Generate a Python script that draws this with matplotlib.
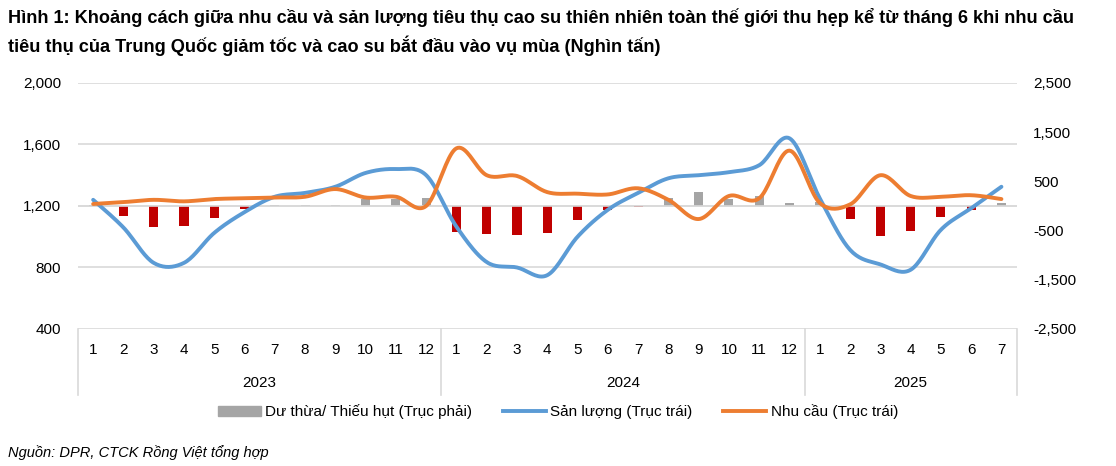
import numpy as np
import matplotlib.pyplot as plt
from matplotlib.lines import Line2D
from matplotlib.patches import Patch
import matplotlib.transforms as mtransforms

plt.rcParams['font.family'] = ['Liberation Sans', 'DejaVu Sans']

# Data (thousand tonnes)
years = ['2023', '2024', '2025']
months = [str(m) for m in range(1, 13)] * 2 + [str(m) for m in range(1, 8)]
san_luong = [1240, 1060, 830, 830, 1025, 1160, 1260, 1285, 1325, 1415, 1440, 1400,
             1065, 835, 800, 750, 1000, 1175, 1285, 1380, 1400, 1420, 1465, 1640,
             1250, 915, 820, 785, 1045, 1185, 1325]
nhu_cau = [1213, 1225, 1240, 1230, 1245, 1250, 1255, 1260, 1310, 1255, 1260, 1200,
           1575, 1400, 1395, 1290, 1280, 1275, 1315, 1240, 1115, 1265, 1250, 1560,
           1220, 1210, 1400, 1265, 1260, 1270, 1245]
du_thua = [20, -200, -420, -410, -250, -70, 10, 25, 10, 140, 140, 170,
           -530, -575, -600, -545, -285, -80, -25, 160, 280, 150, 200, 70,
           75, -260, -610, -500, -220, -80, 70]

BLUE = '#5B9BD5'
ORANGE = '#ED7D31'
GREY = '#A5A5A5'
RED = '#C00000'


def smooth(x, y, n=20):
    # Excel-style smoothed line (Catmull-Rom through the points)
    x = np.asarray(x, float)
    y = np.asarray(y, float)
    px = np.concatenate([[x[0]], x, [x[-1]]])
    py = np.concatenate([[y[0]], y, [y[-1]]])
    t = np.linspace(0, 1, n, endpoint=False)
    xs, ys = [], []
    for i in range(1, len(px) - 2):
        for arr, out in ((px, xs), (py, ys)):
            p0, p1, p2, p3 = arr[i - 1], arr[i], arr[i + 1], arr[i + 2]
            c1 = p1 + (p2 - p0) / 6
            c2 = p2 - (p3 - p1) / 6
            out.extend((1 - t) ** 3 * p1 + 3 * (1 - t) ** 2 * t * c1
                       + 3 * (1 - t) * t ** 2 * c2 + t ** 3 * p2)
    xs.append(x[-1])
    ys.append(y[-1])
    return np.array(xs), np.array(ys)


x = np.arange(len(months))

fig = plt.figure(figsize=(11.16, 4.66), dpi=100)
ax = fig.add_axes([0.0699, 0.294, 0.841, 0.528])
ax2 = ax.twinx()

# bars on right axis
bar_colors = [GREY if v >= 0 else RED for v in du_thua]
ax2.bar(x, du_thua, width=0.3, color=bar_colors, zorder=2)
ax2.set_ylim(-2500, 2500)
ax2.set_yticks([-2500, -1500, -500, 500, 1500, 2500])
ax2.set_yticklabels([f'{v:,}' for v in [-2500, -1500, -500, 500, 1500, 2500]])

# lines on left axis, drawn above bars
ax.set_zorder(ax2.get_zorder() + 1)
ax.patch.set_visible(False)
sx, sy = smooth(x, san_luong)
ax.plot(sx, sy, color=BLUE, lw=2.8, solid_capstyle='round')
nx, ny = smooth(x, nhu_cau)
ax.plot(nx, ny, color=ORANGE, lw=2.8, solid_capstyle='round')
ax.set_ylim(400, 2000)
ax.set_yticks([400, 800, 1200, 1600, 2000])
ax.set_yticklabels([f'{v:,}' for v in [400, 800, 1200, 1600, 2000]])
ax.set_xlim(-0.5, len(months) - 0.5)
ax.set_xticks(x)
ax.set_xticklabels(months)

for a in (ax, ax2):
    for s in a.spines.values():
        s.set_visible(False)
    a.tick_params(length=0, labelsize=11, colors='#000000')
ax.tick_params(axis='y', pad=12)
ax2.tick_params(axis='y', pad=12)
ax.tick_params(axis='x', pad=10)

# gridlines on left axis
for v in [400, 800, 1200, 1600, 2000]:
    ax.axhline(v, color='#D9D9D9', lw=1.2, zorder=0)
ax2.axhline(0, color='#D9D9D9', lw=1.2, zorder=1)

# year labels and separators
trans = mtransforms.blended_transform_factory(ax.transData, ax.transAxes)
bounds = [-0.5, 11.5, 23.5, 30.5]
for b in bounds:
    ax.add_line(Line2D([b, b], [0, -0.27], transform=trans, color='#D9D9D9',
                       lw=1.2, clip_on=False))
for i, yr in enumerate(years):
    ax.text((bounds[i] + bounds[i + 1]) / 2, -0.22, yr, transform=trans,
            ha='center', va='center', fontsize=11)

# legend
handles = [Patch(color=GREY),
           Line2D([], [], color=BLUE, lw=2.8),
           Line2D([], [], color=ORANGE, lw=2.8)]
labels = ['Dư thừa/ Thiếu hụt (Trục phải)', 'Sản lượng (Trục trái)',
          'Nhu cầu (Trục trái)']
fig.legend(handles, labels, loc='center', bbox_to_anchor=(0.5, 0.116), ncol=3,
           frameon=False, fontsize=11, handlelength=2.8, handletextpad=0.3,
           columnspacing=2.0)

fig.text(0.007, 0.962, 'Hình 1: Khoảng cách giữa nhu cầu và sản lượng tiêu thụ cao su thiên nhiên toàn thế giới thu hẹp kể từ tháng 6 khi nhu cầu',
         fontsize=13.1, fontweight='bold', va='center')
fig.text(0.007, 0.902, 'tiêu thụ của Trung Quốc giảm tốc và cao su bắt đầu vào vụ mùa (Nghìn tấn)',
         fontsize=13.1, fontweight='bold', va='center')
fig.text(0.007, 0.03, 'Nguồn: DPR, CTCK Rồng Việt tổng hợp', fontsize=10.5,
         style='italic', va='center')

fig.savefig('out.png', dpi=100)
